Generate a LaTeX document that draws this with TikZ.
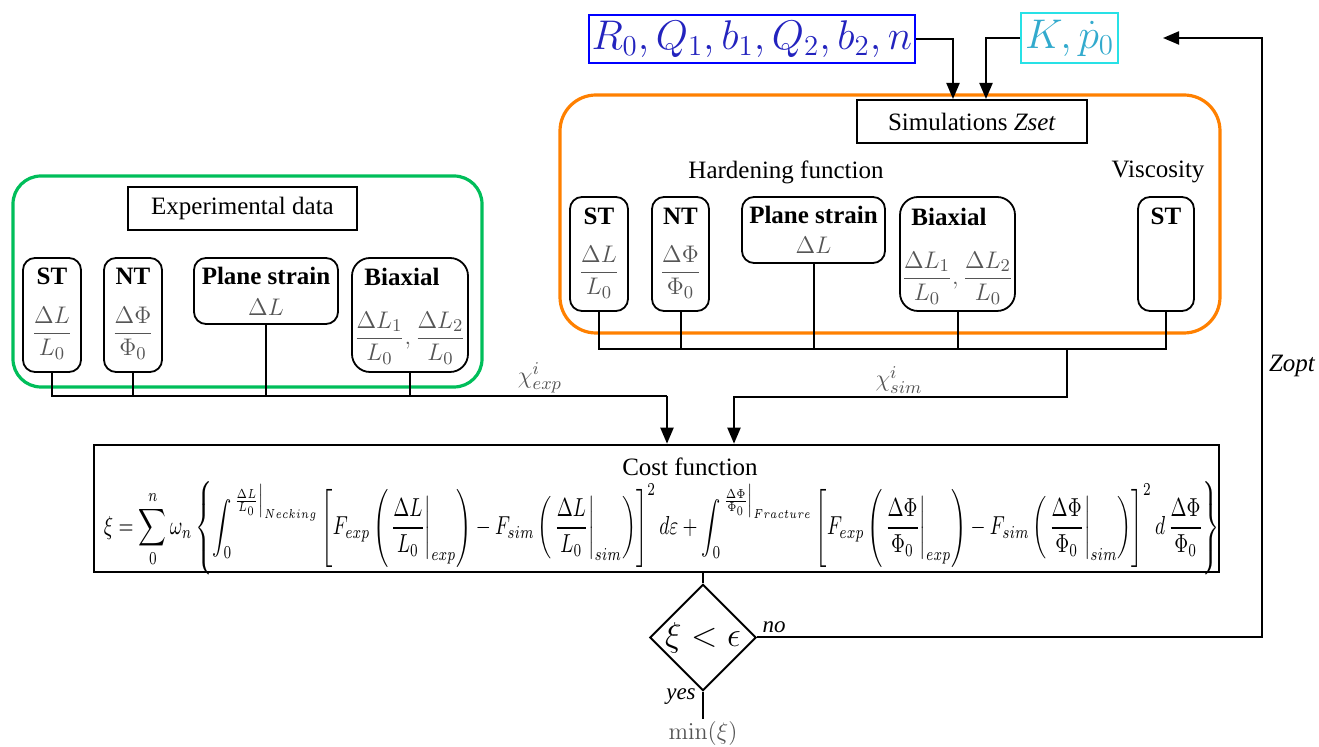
\documentclass[tikz,border=0pt]{standalone}
\usepackage[no-math]{fontspec}
\setmainfont{Liberation Serif}
\usepackage{amsmath}
\usepackage{graphicx}
\usetikzlibrary{arrows.meta,shapes.geometric}
\definecolor{orangeC}{RGB}{255,128,0}
\definecolor{greenC}{RGB}{0,190,90}
\definecolor{blueB}{RGB}{0,0,255}
\definecolor{blueT}{RGB}{35,35,190}
\definecolor{cyanB}{RGB}{40,225,230}
\definecolor{cyanT}{RGB}{50,170,205}
\definecolor{mathgray}{RGB}{85,85,85}
\tikzset{
 ln/.style={line width=1pt, draw=black},
 arr/.style={ln, -{Triangle[width=6.5pt,length=8pt]}},
 sbox/.style={draw, line width=0.9pt, rounded corners=6pt, inner sep=0pt},
 tbox/.style={draw, line width=1pt, inner sep=0pt},
 lbl/.style={font=\fontsize{12.5}{15}\selectfont, inner sep=0pt},
 blbl/.style={font=\fontsize{12.5}{15}\selectfont\bfseries, inner sep=0pt},
 ilbl/.style={font=\fontsize{11.5}{14}\selectfont\itshape, inner sep=0pt},
 mth/.style={font=\fontsize{13}{16}\selectfont, text=mathgray, inner sep=0pt},
 tall/.style={sbox, minimum width=29pt, minimum height=57pt},
 grp/.style={line width=1.6pt, rounded corners=#1, inner sep=0pt},
}
\begin{document}
\begin{tikzpicture}[x=0.5pt,y=-0.5pt]
\useasboundingbox (0,0) rectangle (1319,747);

% ---------- parameter boxes ----------
\node[draw=blueB, line width=0.9pt, inner sep=0pt, minimum width=163pt, minimum height=24pt,
      text=blueT, font=\fontsize{20}{24}\selectfont] (pblue) at (752,39) {$R_0,Q_1,b_1,Q_2,b_2,n$};
\node[draw=cyanB, line width=0.9pt, inner sep=0pt, minimum width=48.5pt, minimum height=25pt,
      text=cyanT, font=\fontsize{20}{24}\selectfont] (pcyan) at (1069.5,38) {$K,\dot{p}_0$};

% ---------- simulation group ----------
\node[draw=orangeC, grp=18pt, minimum width=330pt, minimum height=119pt] (simgrp) at (890,214) {};
\node[tbox, fill=white, minimum width=115pt, minimum height=21.5pt, lbl] (sim) at (972,121.5) {Simulations \textit{Zset}};
\node[lbl] (hard) at (786,172) {Hardening function};
\node[lbl] (visc) at (1158,172) {Viscosity};

\node[tall] (sst) at (599,254) {};
\node[tall, minimum width=28.5pt] (snt) at (680.5,254) {};
\node[sbox, minimum width=71.5pt, minimum height=33pt] (sps) at (813.5,230) {};
\node[sbox, rounded corners=9pt, minimum width=57.5pt, minimum height=57pt] (sbx) at (957.5,254) {};
\node[tall, minimum width=28pt] (svst) at (1166,254) {};

\node[blbl] (sst-t) at (599,216) {ST};
\node[mth] (sst-f) at (599,272) {$\dfrac{\Delta L}{L_0}$};
\node[blbl] (snt-t) at (680.5,216) {NT};
\node[mth] (snt-f) at (680.5,272) {$\dfrac{\Delta\Phi}{\Phi_0}$};
\node[blbl] (sps-t) at (813.5,215) {Plane strain};
\node[mth] (sps-f) at (813.5,245) {$\Delta L$};
\node[blbl] (sbx-t) at (949,217) {Biaxial};
\node[mth] (sbx-f) at (957.5,278) {$\dfrac{\Delta L_1}{L_0},\dfrac{\Delta L_2}{L_0}$};
\node[blbl] (svst-t) at (1166,216) {ST};

% ---------- experimental group ----------
\node[draw=greenC, grp=14pt, minimum width=234.5pt, minimum height=105.5pt] (expgrp) at (247.5,281.5) {};
\node[tbox, minimum width=114.5pt, minimum height=21.5pt, lbl] (exp) at (242.5,208.5) {Experimental data};

\node[tall] (est) at (52,315) {};
\node[tall] (ent) at (133,315) {};
\node[sbox, minimum width=72pt, minimum height=33pt] (eps) at (266,291) {};
\node[sbox, rounded corners=9pt, minimum width=58pt, minimum height=57pt] (ebx) at (410,315) {};

\node[blbl] (est-t) at (52,276) {ST};
\node[mth] (est-f) at (52,333) {$\dfrac{\Delta L}{L_0}$};
\node[blbl] (ent-t) at (133,276) {NT};
\node[mth] (ent-f) at (133,333) {$\dfrac{\Delta\Phi}{\Phi_0}$};
\node[blbl] (eps-t) at (266,276) {Plane strain};
\node[mth] (eps-f) at (266,307) {$\Delta L$};
\node[blbl] (ebx-t) at (402,277) {Biaxial};
\node[mth] (ebx-f) at (410,338) {$\dfrac{\Delta L_1}{L_0},\dfrac{\Delta L_2}{L_0}$};

% ---------- cost function ----------
\node[tbox, line width=1.3pt, minimum width=562.5pt, minimum height=63.5pt] (cost) at (656.5,508.5) {};
\node[lbl] (cost-t) at (690,467) {Cost function};
\node[inner sep=0pt] (cost-f) at (662,528) {\scalebox{1}[1.35]{\resizebox{558pt}{!}{$\displaystyle
 \xi=\sum_{0}^{n}\omega_n\left\{\int_0^{\left.\frac{\Delta L}{L_0}\right|_{Necking}}
 \left[F_{exp}\left(\left.\frac{\Delta L}{L_0}\right|_{exp}\right)-F_{sim}\left(\left.\frac{\Delta L}{L_0}\right|_{sim}\right)\right]^2 d\varepsilon
 +\int_0^{\left.\frac{\Delta\Phi}{\Phi_0}\right|_{Fracture}}
 \left[F_{exp}\left(\left.\frac{\Delta\Phi}{\Phi_0}\right|_{exp}\right)-F_{sim}\left(\left.\frac{\Delta\Phi}{\Phi_0}\right|_{sim}\right)\right]^2 d\,\frac{\Delta\Phi}{\Phi_0}\right\}$}}};

% ---------- decision ----------
\node[draw, line width=1pt, diamond, shape aspect=1, minimum width=52pt, minimum height=52.5pt, inner sep=0pt,
      font=\fontsize{16}{19}\selectfont] (dec) at (703,637.5) {$\xi<\epsilon$};
\node[inner sep=1pt, anchor=north, font=\fontsize{13}{16}\selectfont, text=mathgray] (minx) at (703,719) {$\min(\xi)$};
\node[ilbl] (no) at (774,627) {no};
\node[ilbl] (yes) at (681,697) {yes};
\node[lbl, font=\fontsize{12.5}{15}\selectfont\itshape] (zopt) at (1292,366) {Zopt};

% ---------- labels chi ----------
\node[mth] (chiexp) at (540,378) {$\chi^i_{exp}$};
\node[mth] (chisim) at (899,380) {$\chi^i_{sim}$};

% ---------- connectors ----------
\draw[arr] (pblue.east) -| ([xshift=-9.5pt]sim.north);
\draw[arr] (pcyan.west) -| ([xshift=7pt]sim.north);

\coordinate (ebus) at (667,396);
\draw[ln] (est.south) |- (ebus);
\draw[ln] (ent.south) |- (ebus);
\draw[ln] (eps.south) |- (ebus);
\draw[ln] (ebx.south) |- (ebus);
\draw[arr] (ebus) -- (ebus |- cost.north);

\coordinate (sbus) at (1067,349);
\coordinate (sturn) at (1067,397);
\coordinate (sdrop) at (734,397);
\draw[ln] (sst.south) |- (sbus);
\draw[ln] (snt.south) |- (sbus);
\draw[ln] (sps.south) |- (sbus);
\draw[ln] (sbx.south) |- (sbus);
\draw[ln] (svst.south) |- (sbus);
\draw[arr] (sbus) -- (sturn) -- (sdrop) -- (sdrop |- cost.north);

\draw[ln] (cost.south -| dec.north) -- (dec.north);
\draw[ln] (dec.south) -- (minx.north);

\coordinate (lr) at (1262,637.5);
\coordinate (ur) at (1262,38);
\coordinate (zend) at (1163,38);
\draw[arr] (dec.east) -- (lr) -- (ur) -- (zend);
\end{tikzpicture}
\end{document}
